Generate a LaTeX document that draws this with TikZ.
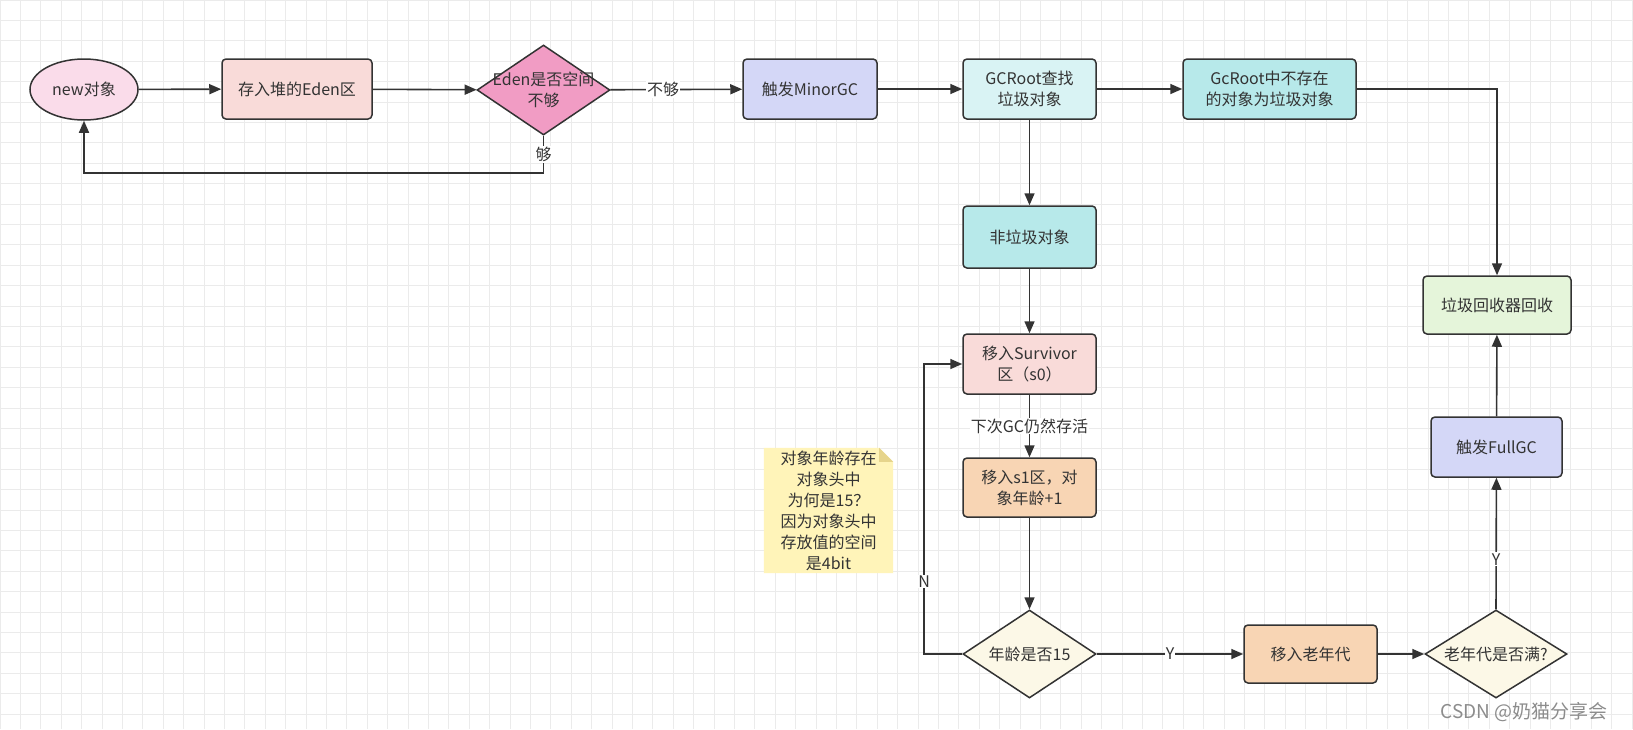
\documentclass[tikz,border=0pt]{standalone}
\usepackage{fontspec}
\setmainfont{Noto Sans CJK SC}
\usetikzlibrary{shapes.geometric,arrows.meta}

\definecolor{linegray}{HTML}{333333}
\definecolor{textgray}{HTML}{333333}
\definecolor{gridcol}{HTML}{EBEBEB}
\definecolor{pinklight}{HTML}{FADCEA}
\definecolor{salmon}{HTML}{F9DBD9}
\definecolor{pinkdeep}{HTML}{F19CC4}
\definecolor{lavender}{HTML}{D4D7F7}
\definecolor{cyanlight}{HTML}{D9F3F4}
\definecolor{cyanmid}{HTML}{B7E9EA}
\definecolor{greenlight}{HTML}{E5F5DA}
\definecolor{peach}{HTML}{F8D5B4}
\definecolor{cream}{HTML}{FCF8E7}
\definecolor{noteyellow}{HTML}{FFF4B9}
\definecolor{notefold}{HTML}{E6D48C}

\tikzset{
	box/.style={draw=linegray, line width=1.5pt, rounded corners=4pt, minimum width=133pt, minimum height=60pt, align=center, inner sep=2pt, text=textgray},
	decision/.style={draw=linegray, line width=1.5pt, shape=diamond, minimum width=133pt, minimum height=88pt, inner sep=0pt, label={[text=textgray, align=center]center:#1}},
	link/.style={draw=linegray, line width=1.6pt, -{Triangle[length=12pt,width=10pt]}},
	lbl/.style={fill=white, inner sep=1pt, text=textgray}
}

\begin{document}
\begin{tikzpicture}[x=1pt, y=-1pt, font=\fontsize{16}{21}\selectfont]
	\useasboundingbox (0,0) rectangle (1633,729);
	\fill[white] (0,0) rectangle (1633,729);
	\draw[gridcol, line width=0.7pt, step=20.4pt] (0,0) grid (1633,729);

	% top row
	\node[shape=ellipse, draw=linegray, line width=1.5pt, fill=pinklight, minimum width=108pt, minimum height=61pt, inner sep=0pt, text=textgray] (newobj) at (84,89.5) {new对象};
	\node[box, fill=salmon, minimum width=150pt] (eden) at (297,89) {存入堆的Eden区};
	\node[decision={Eden是否空间\\不够}, fill=pinkdeep, minimum height=90pt] (edenq) at (543.5,90) {};
	\node[box, fill=lavender, minimum width=134pt] (minor) at (810,89) {触发MinorGC};
	\node[box, fill=cyanlight] (gcfind) at (1029.5,89) {GCRoot查找\\垃圾对象};
	\node[box, fill=cyanmid, minimum width=173pt] (gcnot) at (1269.5,89) {GcRoot中不存在\\的对象为垃圾对象};

	% middle column
	\node[box, fill=cyanmid, minimum height=62pt] (nongarb) at (1029.5,237) {非垃圾对象};
	\node[box, fill=salmon] (surv) at (1029.5,364) {移入Survivor\\区（s0）};
	\node[box, fill=peach, minimum height=59pt] (s1) at (1029.5,487.5) {移入s1区，对\\象年龄+1};
	\node[decision={年龄是否15}, fill=cream] (agechk) at (1029.5,654) {};

	% bottom row and right column
	\node[box, fill=peach, minimum height=58pt] (old) at (1310.5,654) {移入老年代};
	\node[decision={老年代是否满?}, fill=cream, minimum width=142pt] (oldchk) at (1496,654) {};
	\node[box, fill=lavender, minimum width=131pt] (fullgc) at (1496.5,447) {触发FullGC};
	\node[box, fill=greenlight, minimum width=148pt, minimum height=58pt] (collect) at (1497,305) {垃圾回收器回收};

	% note
	\node[text=textgray, align=center, minimum width=129pt, minimum height=125pt, inner sep=0pt] (note) at (828.5,510.5) {};
	\fill[noteyellow] (note.south west) -- (note.north west) -- ([xshift=-14pt]note.north east) -- ([yshift=-14pt]note.north east) -- (note.south east) -- cycle;
	\fill[notefold] ([xshift=-14pt]note.north east) -- ([yshift=-14pt]note.north east) -- ([xshift=-14pt,yshift=-14pt]note.north east) -- cycle;
	\node[text=textgray, align=center] at (note) {对象年龄存在\\对象头中\\为何是15？\\因为对象头中\\存放值的空间\\是4bit};

	\path[link] (newobj) -- (eden);
	\path[link] (eden) -- (edenq);
	\path[link] (edenq) -- node[lbl, pos=0.4] {不够} (minor);
	\path[link] (edenq.south) -- node[lbl] {够} (edenq.south |- 0,173) -| (newobj.south);
	\path[link] (minor) -- (gcfind);
	\path[link] (gcfind) -- (gcnot);
	\path[link] (gcnot.east) -| (collect.north);
	\path[link] (gcfind) -- (nongarb);
	\path[link] (nongarb) -- (surv);
	\path[link] (surv) -- node[lbl] {下次GC仍然存活} (s1);
	\path[link] (s1) -- (agechk);
	\path[link] (agechk.west) -- ++(-38,0) |- node[lbl, pos=0.125] {N} (surv.west);
	\path[link] (agechk) -- node[lbl] {Y} (old);
	\path[link] (old) -- (oldchk);
	\path[link] (oldchk.north) -- node[lbl, pos=0.38] {Y} (fullgc);
	\path[link] (fullgc) -- (collect);

	\node[text=black!45, font=\fontsize{19}{22}\selectfont] (csdn) at (1524,712) {CSDN @奶猫分享会};
\end{tikzpicture}
\end{document}
